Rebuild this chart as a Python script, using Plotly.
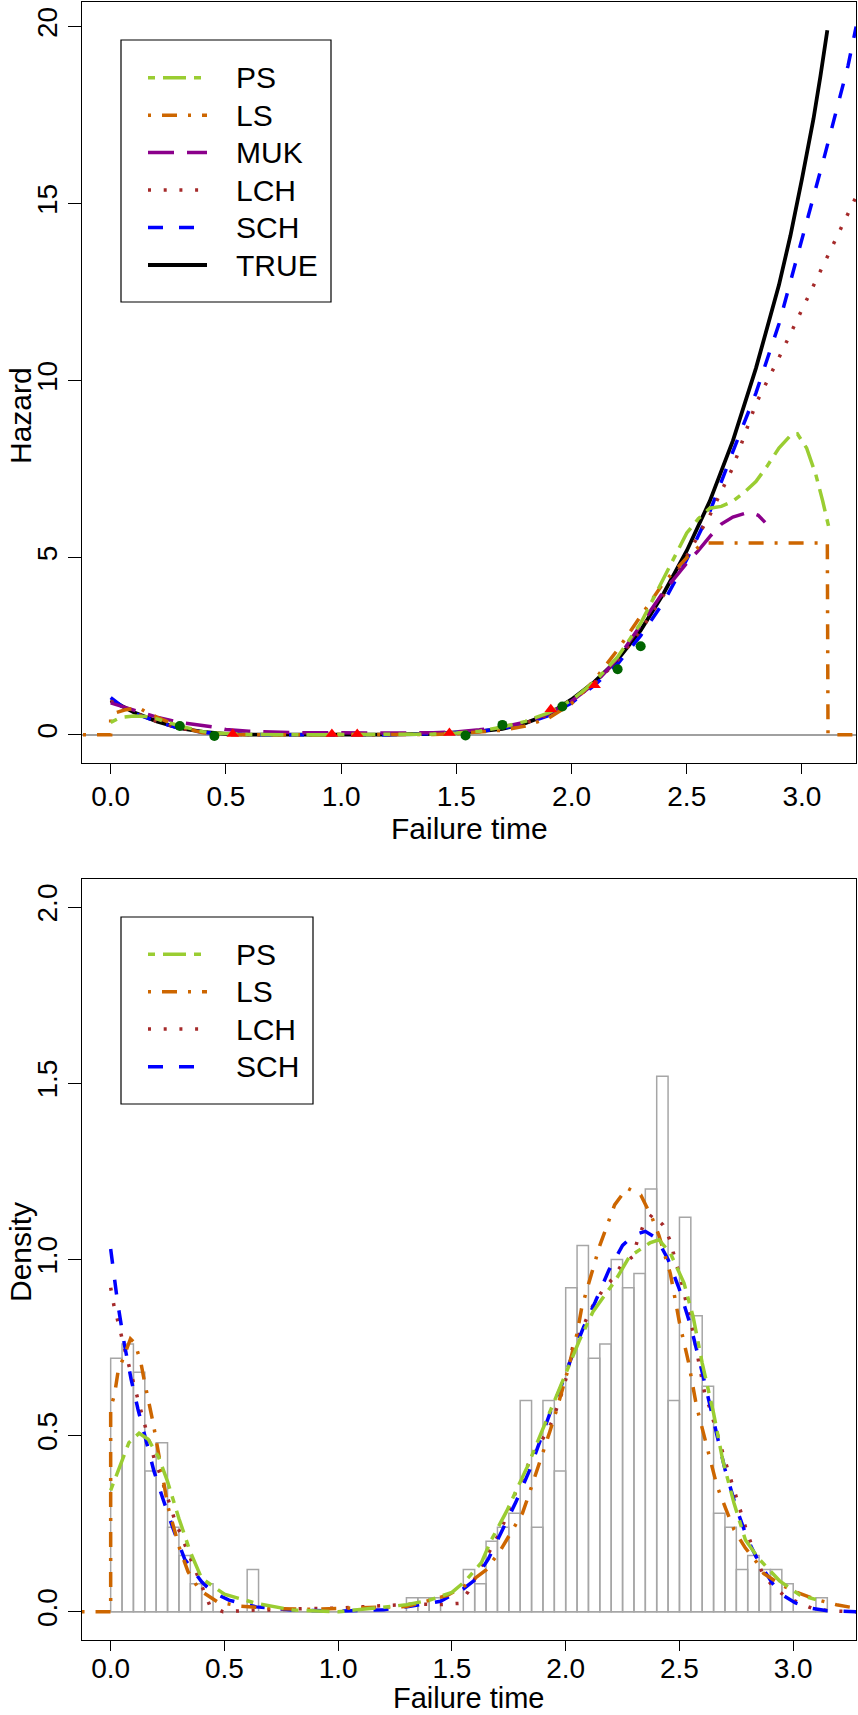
import plotly.graph_objects as go

# ---------------- Hazard panel data ----------------
true_t = [0, 0.1, 0.2, 0.3, 0.4, 0.5, 0.6, 0.8, 1.0, 1.2, 1.4, 1.5, 1.6, 1.7, 1.8, 1.9, 2.0,
          2.1, 2.2, 2.3, 2.4, 2.5, 2.6, 2.7, 2.8, 2.9, 2.95, 3.0, 3.05, 3.08, 3.11]
true_h = [0.98, 0.64, 0.38, 0.19, 0.08, 0.025, 0.005, 0.0, 0.0, 0.005, 0.03, 0.06, 0.1, 0.17,
          0.33, 0.58, 1.0, 1.5, 2.12, 2.95, 4.0, 5.2, 6.6, 8.3, 10.35, 12.7, 14.1, 15.7, 17.4,
          18.6, 19.9]

sch_t = [0, 0.05, 0.1, 0.2, 0.3, 0.4, 0.5, 0.6, 0.8, 1.0, 1.2, 1.4, 1.5, 1.6, 1.7, 1.8, 1.9,
         2.0, 2.1, 2.2, 2.3, 2.4, 2.5, 2.6, 2.7, 2.8, 2.9, 3.0, 3.1, 3.2, 3.235]
sch_h = [1.05, 0.8, 0.62, 0.37, 0.18, 0.07, 0.02, 0.005, 0.0, 0.0, 0.005, 0.03, 0.06, 0.1,
         0.18, 0.32, 0.54, 0.9, 1.4, 2.0, 2.8, 3.75, 4.95, 6.3, 8.0, 9.65, 11.6, 14.0, 16.4,
         18.9, 20.0]

lch_t = [0, 0.05, 0.1, 0.2, 0.3, 0.4, 0.5, 0.6, 0.8, 1.0, 1.2, 1.4, 1.5, 1.6, 1.7, 1.8, 1.9,
         2.0, 2.1, 2.2, 2.3, 2.4, 2.5, 2.6, 2.7, 2.8, 2.9, 3.0, 3.1, 3.2, 3.235]
lch_h = [0.95, 0.8, 0.63, 0.38, 0.19, 0.08, 0.025, 0.005, 0.0, 0.0, 0.005, 0.03, 0.06, 0.1,
         0.18, 0.33, 0.57, 0.95, 1.45, 2.1, 2.95, 3.95, 5.05, 6.2, 7.55, 9.35, 10.65, 12.0,
         13.35, 14.75, 15.2]

muk_t = [0, 0.1, 0.2, 0.3, 0.4, 0.45, 0.5, 0.6, 0.8, 1.0, 1.2, 1.4, 1.5, 1.6, 1.7, 1.8, 1.9,
         2.0, 2.1, 2.2, 2.3, 2.4, 2.5, 2.55, 2.6, 2.65, 2.7, 2.75, 2.78, 2.81, 2.84]
muk_h = [0.9, 0.7, 0.5, 0.35, 0.26, 0.22, 0.15, 0.1, 0.06, 0.05, 0.05, 0.06, 0.08, 0.14, 0.22,
         0.36, 0.6, 0.95, 1.45, 2.15, 3.1, 4.05, 4.85, 5.2, 5.6, 5.95, 6.15, 6.25, 6.28, 6.2, 6.0]

ls_t = [-0.12, 0.0, 0.0, 0.02, 0.06, 0.1, 0.12, 0.15, 0.2, 0.3, 0.4, 0.5, 0.6, 0.8, 1.0, 1.2,
        1.4, 1.5, 1.6, 1.7, 1.8, 1.9, 2.0, 2.1, 2.2, 2.3, 2.4, 2.5, 2.55, 2.58, 3.11, 3.113, 3.235]
ls_h = [0.0, 0.0, 0.55, 0.62, 0.7, 0.76, 0.77, 0.66, 0.5, 0.22, 0.06, 0.0, 0.0, 0.0, 0.0, 0.0,
        0.01, 0.03, 0.07, 0.13, 0.25, 0.47, 0.88, 1.55, 2.4, 3.35, 4.3, 5.0, 5.3, 5.42, 5.42,
        0.0, 0.0]

ps_t = [0, 0.03, 0.06, 0.1, 0.15, 0.2, 0.3, 0.4, 0.45, 0.5, 0.6, 0.8, 1.0, 1.2, 1.4, 1.5, 1.6,
        1.7, 1.8, 1.9, 2.0, 2.1, 2.2, 2.3, 2.4, 2.5, 2.55, 2.6, 2.65, 2.7, 2.75, 2.8, 2.85, 2.9,
        2.95, 2.98, 3.02, 3.06, 3.09, 3.115]
ps_h = [0.35, 0.45, 0.5, 0.53, 0.52, 0.45, 0.25, 0.09, 0.05, 0.03, 0.01, 0.0, 0.0, 0.0, 0.02,
        0.05, 0.1, 0.22, 0.38, 0.62, 0.98, 1.5, 2.2, 3.15, 4.4, 5.7, 6.1, 6.4, 6.45, 6.6, 6.85,
        7.15, 7.6, 8.1, 8.45, 8.5, 8.1, 7.35, 6.6, 5.9]

dot_t = [0.30, 0.45, 1.54, 1.70, 1.96, 2.20, 2.30]
dot_h = [0.25, -0.03, -0.02, 0.28, 0.80, 1.85, 2.50]
tri_t = [0.53, 0.96, 1.07, 1.47, 1.91, 2.10]
tri_h = [0.02, 0.02, 0.02, 0.05, 0.72, 1.40]

# ---------------- Density panel data ----------------
bin_start = [round(0.05 * i, 2) for i in range(63)]
bin_dens = [0.72, 0.76, 0.68, 0.40, 0.48, 0.24, 0.16, 0.08, 0.08, 0.0, 0.0, 0.0, 0.12,
            0.0, 0.0, 0.0, 0.0, 0.0, 0.0, 0.0, 0.0, 0.0, 0.0, 0.0, 0.0, 0.0,
            0.04, 0.04, 0.04, 0.0, 0.0, 0.12, 0.08, 0.20, 0.24, 0.28, 0.60, 0.24, 0.60, 0.40,
            0.92, 1.04, 0.72, 0.76, 1.00, 0.92, 0.96, 1.20, 1.52, 0.60, 1.12, 0.84, 0.64,
            0.28, 0.24, 0.12, 0.16, 0.12, 0.12, 0.08, 0.0, 0.0, 0.04]
bin_width = 0.05

dps_t = [0, 0.04, 0.08, 0.125, 0.165, 0.21, 0.25, 0.3, 0.35, 0.4, 0.5, 0.64, 0.8, 1.0, 1.2,
         1.3, 1.4, 1.5, 1.56, 1.63, 1.67, 1.74, 1.83, 1.9, 1.99, 2.06, 2.12, 2.22, 2.28, 2.37,
         2.41, 2.46, 2.52, 2.56, 2.6, 2.65, 2.69, 2.74, 2.79, 2.85, 2.94, 3.03, 3.1]
dps_d = [0.345, 0.41, 0.48, 0.507, 0.49, 0.44, 0.37, 0.265, 0.17, 0.095, 0.05, 0.024, 0.005,
         0.0, 0.012, 0.02, 0.033, 0.055, 0.088, 0.14, 0.2, 0.285, 0.41, 0.52, 0.656, 0.77,
         0.852, 0.942, 1.008, 1.047, 1.056, 1.018, 0.933, 0.838, 0.706, 0.564, 0.431, 0.308,
         0.204, 0.15, 0.088, 0.047, 0.035]

dls_t = [-0.128, 0.0, 0.0, 0.017, 0.032, 0.062, 0.087, 0.106, 0.132, 0.15, 0.169, 0.187,
         0.216, 0.252, 0.303, 0.34, 0.39, 0.47, 0.57, 0.7, 0.85, 1.0, 1.15, 1.3, 1.41, 1.48,
         1.56, 1.65, 1.71, 1.76, 1.81, 1.84, 1.9, 1.93, 1.96, 2.01, 2.05, 2.07, 2.1, 2.15,
         2.215, 2.27, 2.33, 2.38, 2.41, 2.46, 2.5, 2.54, 2.575, 2.62, 2.665, 2.705, 2.74,
         2.79, 2.84, 2.87, 2.95, 3.01, 3.1, 3.19, 3.278]
dls_d = [0.0, 0.0, 0.58, 0.616, 0.68, 0.734, 0.775, 0.763, 0.71, 0.649, 0.59, 0.535, 0.43,
         0.298, 0.18, 0.114, 0.062, 0.028, 0.016, 0.01, 0.007, 0.009, 0.011, 0.015, 0.034,
         0.047, 0.075, 0.119, 0.171, 0.227, 0.28, 0.336, 0.45, 0.511, 0.573, 0.687, 0.79,
         0.862, 0.93, 1.04, 1.155, 1.203, 1.183, 1.118, 1.068, 0.96, 0.821, 0.708, 0.584,
         0.47, 0.357, 0.29, 0.233, 0.181, 0.14, 0.109, 0.075, 0.057, 0.035, 0.02, 0.01]

dlch_t = [0, 0.015, 0.032, 0.047, 0.066, 0.084, 0.1, 0.117, 0.136, 0.154, 0.193, 0.216, 0.26,
          0.281, 0.333, 0.384, 0.435, 0.494, 0.564, 0.633, 0.7, 0.84, 0.98, 1.12, 1.25, 1.33,
          1.4, 1.46, 1.534, 1.571, 1.604, 1.637, 1.671, 1.703, 1.732, 1.781, 1.813, 1.839,
          1.908, 1.942, 1.985, 2.003, 2.03, 2.069, 2.094, 2.125, 2.164, 2.208, 2.245, 2.296,
          2.315, 2.34, 2.381, 2.428, 2.457, 2.474, 2.495, 2.513, 2.542, 2.56, 2.585, 2.611,
          2.633, 2.7, 2.8, 2.864, 2.911, 2.963, 3.029, 3.087, 3.16, 3.226, 3.278]
dlch_d = [0.92, 0.867, 0.824, 0.78, 0.734, 0.69, 0.649, 0.606, 0.564, 0.521, 0.431, 0.393,
          0.303, 0.262, 0.18, 0.10, 0.019, 0.0, 0.003, 0.005, 0.005, 0.009, 0.01, 0.014,
          0.018, 0.022, 0.021, 0.021, 0.024, 0.057, 0.098, 0.137, 0.176, 0.217, 0.258, 0.341,
          0.382, 0.424, 0.501, 0.542, 0.625, 0.666, 0.749, 0.8, 0.835, 0.876, 0.914, 0.947,
          0.984, 1.009, 1.054, 1.095, 1.128, 1.098, 1.057, 1.015, 0.971, 0.926, 0.842, 0.795,
          0.708, 0.62, 0.579, 0.43, 0.22, 0.11, 0.072, 0.045, 0.024, 0.009, 0.003, 0.0, 0.0]

dsch_t = [0, 0.015, 0.03, 0.06, 0.09, 0.12, 0.155, 0.19, 0.23, 0.275, 0.325, 0.4, 0.45, 0.52,
          0.64, 0.8, 1.0, 1.2, 1.31, 1.45, 1.55, 1.6, 1.66, 1.72, 1.78, 1.84, 1.89, 1.94, 1.98,
          2.03, 2.08, 2.13, 2.19, 2.25, 2.3, 2.35, 2.4, 2.45, 2.5, 2.55, 2.6, 2.65, 2.7, 2.75,
          2.8, 2.85, 2.91, 2.96, 3.01, 3.08, 3.15, 3.278]
dsch_d = [1.03, 0.95, 0.88, 0.76, 0.66, 0.575, 0.49, 0.4, 0.32, 0.235, 0.15, 0.085, 0.055,
          0.033, 0.014, 0.005, 0.002, 0.006, 0.015, 0.03, 0.065, 0.09, 0.15, 0.23, 0.31, 0.4,
          0.49, 0.58, 0.64, 0.73, 0.81, 0.88, 0.97, 1.04, 1.07, 1.08, 1.06, 1.0, 0.915, 0.81,
          0.68, 0.54, 0.405, 0.295, 0.205, 0.14, 0.08, 0.045, 0.025, 0.01, 0.003, 0.0]

x_ticks = [0.0, 0.5, 1.0, 1.5, 2.0, 2.5, 3.0]
haz_ticks = [0, 5, 10, 15, 20]
dens_ticks = [0.0, 0.5, 1.0, 1.5, 2.0]

# ---------------- styles ----------------
FONT = "Liberation Sans, Arial, Helvetica, sans-serif"
COL = {"PS": "#9ACD32", "LS": "#CD6600", "MUK": "#8B008B", "LCH": "#A52A2A",
       "SCH": "#0000FF", "TRUE": "#000000"}
DASH = {"PS": "7px,8px,23px,8px", "LS": "3px,11px,15px,11px", "MUK": "26px,13px",
        "LCH": "3px,12.7px", "SCH": "15px,16px", "TRUE": "solid"}
LW = 3.5

W, H = 858, 1715
ML, MR, MT, MB = 82, 2, 2, 75
PW = W - ML - MR
PH = H - MT - MB


def px(x):
    return (x - ML) / PW


def py(y):
    return (H - MB - y) / PH


fig = go.Figure()


def add_line(name, t, v, xa, ya):
    fig.add_trace(go.Scatter(x=t, y=v, mode="lines", name=name, xaxis=xa, yaxis=ya,
                             line=dict(color=COL[name], width=LW if name != "TRUE" else 3.8,
                                       dash=DASH[name]),
                             showlegend=False, hoverinfo="skip"))


# top panel
add_line("TRUE", true_t, true_h, "x", "y")
add_line("SCH", sch_t, sch_h, "x", "y")
add_line("LCH", lch_t, lch_h, "x", "y")
add_line("MUK", muk_t, muk_h, "x", "y")
add_line("LS", ls_t, ls_h, "x", "y")
add_line("PS", ps_t, ps_h, "x", "y")
fig.add_trace(go.Scatter(x=dot_t, y=dot_h, mode="markers", xaxis="x", yaxis="y",
                         marker=dict(symbol="circle", size=10, color="#006400"),
                         showlegend=False, hoverinfo="skip"))
fig.add_trace(go.Scatter(x=tri_t, y=tri_h, mode="markers", xaxis="x", yaxis="y",
                         marker=dict(symbol="triangle-up", size=11, color="#FF0000"),
                         showlegend=False, hoverinfo="skip"))

# bottom panel: histogram
centers = [s + bin_width / 2 for s in bin_start]
fig.add_trace(go.Bar(x=centers, y=bin_dens, width=bin_width, xaxis="x2", yaxis="y2",
                     marker=dict(color="rgba(0,0,0,0)", line=dict(color="#A6A6A6", width=1.5)),
                     showlegend=False, hoverinfo="skip"))
fig.add_trace(go.Scatter(x=[bin_start[0], bin_start[-1] + bin_width], y=[0, 0], mode="lines",
                         xaxis="x2", yaxis="y2", line=dict(color="#A6A6A6", width=1.5),
                         showlegend=False, hoverinfo="skip"))
add_line("LCH", dlch_t, dlch_d, "x2", "y2")
add_line("SCH", dsch_t, dsch_d, "x2", "y2")
add_line("LS", dls_t, dls_d, "x2", "y2")
add_line("PS", dps_t, dps_d, "x2", "y2")

axis_common = dict(showline=True, mirror=True, linecolor="black", linewidth=1.2,
                   ticks="outside", tickcolor="black", tickwidth=1.2, showgrid=False,
                   tickfont=dict(family=FONT, size=28, color="black"))

fig.update_layout(
    width=W, height=H, margin=dict(l=ML, r=MR, t=MT, b=MB, autoexpand=False),
    paper_bgcolor="white", plot_bgcolor="white", showlegend=False,
    xaxis=dict(domain=[0, 1], anchor="y", range=[-0.1244, 3.2344], tickvals=x_ticks,
               tickformat=".1f", ticklen=10, ticklabelstandoff=-2, zeroline=False,
               **axis_common),
    yaxis=dict(domain=[py(763), 1], anchor="x", range=[-0.796, 20.696], tickvals=haz_ticks,
               tickangle=-90, ticklen=13, zeroline=True, zerolinecolor="#A0A0A0",
               zerolinewidth=1.5, **axis_common),
    xaxis2=dict(domain=[0, 1], anchor="y2", range=[-0.126, 3.276], tickvals=x_ticks,
                tickformat=".1f", ticklen=10, ticklabelstandoff=-7, zeroline=False,
                **axis_common),
    yaxis2=dict(domain=[0, py(879)], anchor="x2", range=[-0.08, 2.08], tickvals=dens_ticks,
                tickformat=".1f", tickangle=-90, ticklen=13, zeroline=False, **axis_common),
)

# axis titles
ann = []
TF = dict(family=FONT, size=30, color="black")
ann.append(dict(text="Failure time", x=px(469), y=py(828), xref="paper", yref="paper",
                showarrow=False, font=TF, xanchor="center", yanchor="middle"))
ann.append(dict(text="Failure time", x=px(469), y=py(1698), xref="paper", yref="paper",
                showarrow=False, font=dict(family=FONT, size=29, color="black"),
                borderpad=0, xanchor="center", yanchor="middle"))
ann.append(dict(text="Hazard", x=px(20), y=py(416), xref="paper", yref="paper",
                showarrow=False, textangle=-90, font=TF, xanchor="center", yanchor="middle"))
ann.append(dict(text="Density", x=px(20), y=py(1252), xref="paper", yref="paper",
                showarrow=False, textangle=-90, font=TF, xanchor="center", yanchor="middle"))

# legends (drawn as R-style boxed keys)
shapes = []


def legend_box(x0, y0, x1, y1, names, ys):
    shapes.append(dict(type="rect", xref="paper", yref="paper", x0=px(x0), x1=px(x1),
                       y0=py(y1), y1=py(y0), line=dict(color="black", width=1.2),
                       fillcolor="white", layer="above"))
    for n, yy in zip(names, ys):
        shapes.append(dict(type="line", xref="paper", yref="paper", x0=px(148), x1=px(207),
                           y0=py(yy), y1=py(yy), layer="above",
                           line=dict(color=COL[n], width=LW if n != "TRUE" else 3.8,
                                     dash=DASH[n])))
        ann.append(dict(text=n, x=px(234), y=py(yy), xref="paper", yref="paper",
                        showarrow=False, xanchor="left", yanchor="middle", font=TF))


legend_box(121, 40, 331, 302, ["PS", "LS", "MUK", "LCH", "SCH", "TRUE"],
           [77.7, 115.2, 152.6, 190.1, 227.5, 265.0])
legend_box(121, 917, 313, 1104, ["PS", "LS", "LCH", "SCH"],
           [954.3, 991.7, 1029.0, 1066.7])

fig.update_layout(annotations=ann, shapes=shapes)
fig.write_html("out.html")
